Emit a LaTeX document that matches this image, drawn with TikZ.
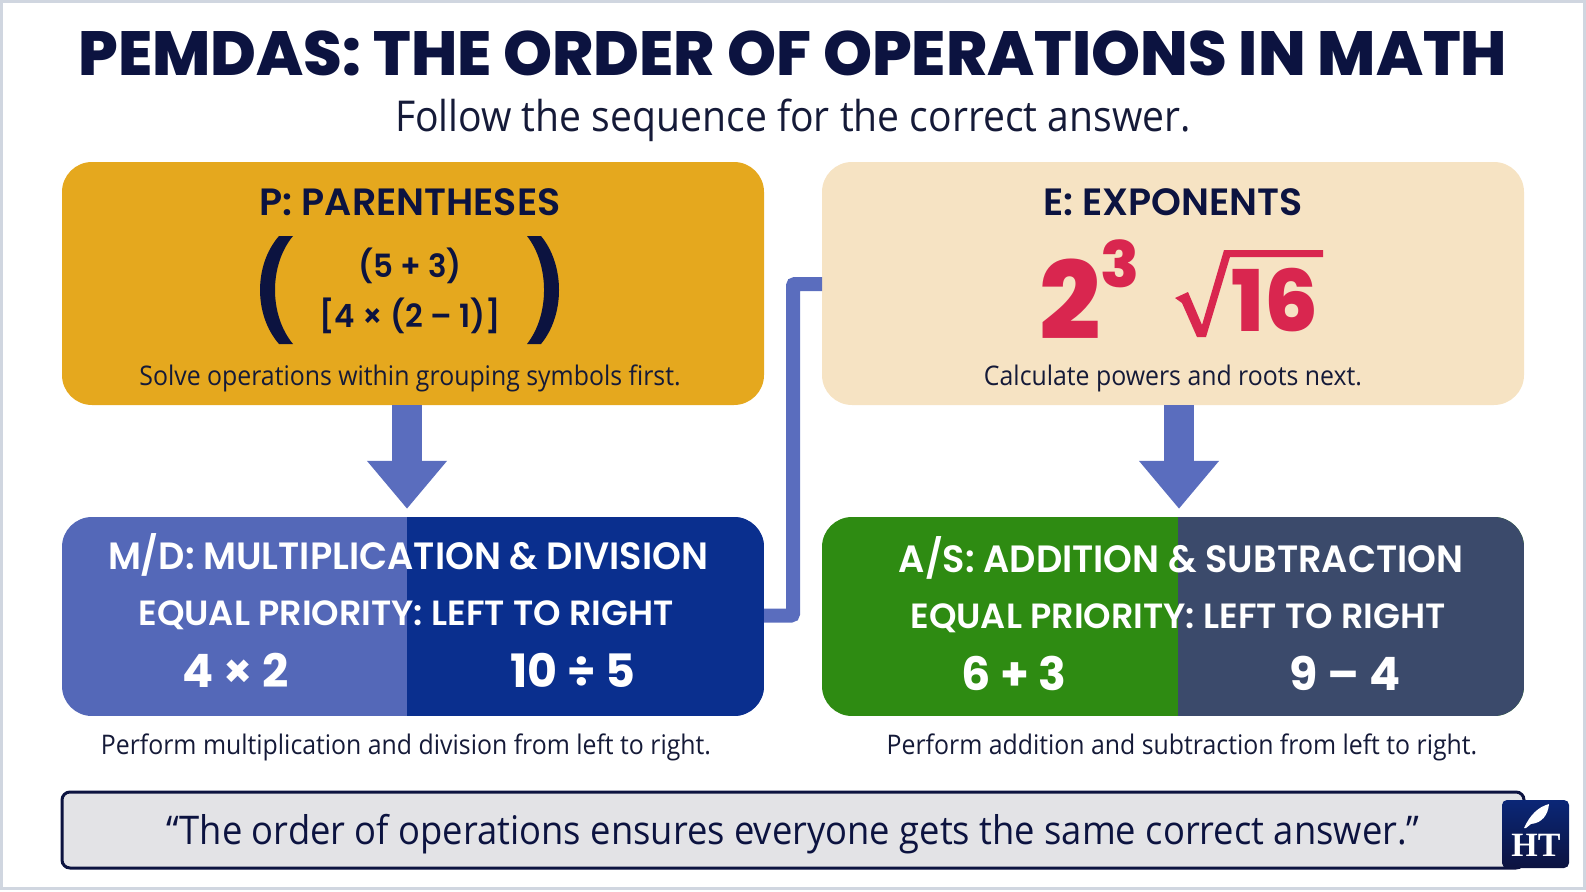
\documentclass[tikz,border=0pt]{standalone}
\usepackage{fontspec}
\usetikzlibrary{positioning,arrows.meta,calc}
\newfontfamily\titlefont{Poppins ExtraBold}
\newfontfamily\headfont{Poppins SemiBold}
\newfontfamily\widefont[FakeStretch=0.965]{Poppins SemiBold}
\newfontfamily\sumfont{Poppins}
\newfontfamily\bodyfont[FakeStretch=0.92]{Open Sans}
\newfontfamily\logofont{Liberation Serif}
\newcommand{\fsz}[1]{\fontsize{#1}{#1}\selectfont}
\definecolor{navy}{HTML}{0C1340}
\definecolor{ink}{HTML}{151A38}
\definecolor{gold}{HTML}{E5A81E}
\definecolor{cream}{HTML}{F6E3C3}
\definecolor{crimson}{HTML}{D9264F}
\definecolor{mdleft}{HTML}{5468B8}
\definecolor{mdright}{HTML}{0A2F8E}
\definecolor{asleft}{HTML}{2E8B12}
\definecolor{asright}{HTML}{3B4A6B}
\definecolor{flow}{HTML}{5A6DBE}
\definecolor{quotebg}{HTML}{E3E3E6}
\definecolor{frame}{HTML}{D0D6E0}
\tikzset{
  tile/.style={rounded corners=30pt,minimum width=702pt,inner sep=0pt},
  split tile/.style n args={3}{tile,minimum height=199pt,path picture={
    \fill[#1,sharp corners] (path picture bounding box.south west) rectangle (path picture bounding box.north east);
    \fill[#2,sharp corners] (path picture bounding box.south east) rectangle (#3,-200);}},
  head/.style={anchor=base,inner sep=0pt,text=navy,font=\headfont\fsz{38}},
  white head/.style={anchor=base,inner sep=0pt,text=white,font=\widefont\fsz{38}},
  rule/.style={anchor=base,inner sep=0pt,text=white,font=\headfont\fsz{35}},
  sums/.style={anchor=base,inner sep=0pt,text=white,font=\sumfont\bfseries\fsz{46}},
  expr/.style={anchor=base,inner sep=0pt,text=navy,font=\widefont\fsz{32}},
  power/.style={anchor=base,inner sep=0pt,text=crimson},
  caption/.style={anchor=base,inner sep=0pt,text=ink,font=\bodyfont\fsz{27}},
  down/.style={line width=30pt,flow,-{Triangle[width=77pt,length=48pt]},shorten >=8pt},
}
\begin{document}
\begin{tikzpicture}[x=1pt,y=-1pt]
\useasboundingbox (0,0) rectangle (1586,891);
\draw[line width=3pt,draw=frame] (1,1.5) rectangle (1584.5,888.5);
% heading
\node[anchor=base,inner sep=0pt,text=navy,font=\titlefont\fsz{62.4}] (title) at (793,75) {PEMDAS: THE ORDER OF OPERATIONS IN MATH};
\node[anchor=base,inner sep=0pt,text=ink,font=\bodyfont\fsz{42.5}] (sub) at (793,131) {Follow the sequence for the correct answer.};
% tiles
\node[tile,fill=gold,minimum height=243pt] (ptile) at (413,283.5) {};
\node[tile,fill=cream,minimum height=243pt] (etile) at (1173,283.5) {};
\node[split tile={mdleft}{mdright}{-6}] (mdtile) at (413,616.5) {};
\node[split tile={asleft}{asright}{5}] (astile) at (1173,616.5) {};
% connectors
\coordinate (psplit) at (407,405);
\coordinate (esplit) at (1179,405);
\draw[down] (psplit) -- (psplit |- mdtile.north);
\draw[down] (esplit) -- (esplit |- astile.north);
\coordinate (mdout) at (764,615.5);
\coordinate (ein) at (822,284);
\draw[line width=14pt,flow,rounded corners=2pt] (mdout) -| (793,284) -- (ein);
% P
\node[head] (phead) at (410,215) {P: PARENTHESES};
\fill[navy] (279,236) .. controls (253.7,265) and (253.7,315) .. (279,344) -- (293,344) .. controls (269,315) and (269,265) .. (293,236) -- cycle;
\node[expr] (pa) at (410,277) {(5 + 3)};
\node[expr] (pb) at (410,327) {[4 × (2 – 1)]};
\fill[navy] (541,236) .. controls (565,265) and (565,315) .. (541,344) -- (527,344) .. controls (549.7,315) and (549.7,265) .. (527,236) -- cycle;
\node[caption] (pcap) at (410,385) {Solve operations within grouping symbols first.};
% E
\node[head] (ehead) at (1173,215) {E: EXPONENTS};
\node[power,font=\titlefont\fsz{108}] (two) at (1070,339) {2};
\node[power,font=\titlefont\fsz{64}] (three) at (1120,287) {3};
\fill[crimson] (1175,298) -- (1188,292) -- (1202,325) -- (1224,250) -- (1323,250) -- (1323,257) -- (1230,257) -- (1206,337) -- (1197,337) -- (1182,303) -- cycle;
\node[power,font=\titlefont\fsz{85}] (root) at (1275,331) {16};
\node[caption] (ecap) at (1173,385) {Calculate powers and roots next.};
% M/D
\node[white head] (mdhead) at (408,569) {M/D: MULTIPLICATION \& DIVISION};
\node[rule] (mdrule) at (406,625) {EQUAL PRIORITY: LEFT TO RIGHT};
\node[sums] (mda) at (236,687) {4 × 2};
\node[sums] (mdb) at (573,687) {10 ÷ 5};
\node[caption] (mdcap) at (406,754) {Perform multiplication and division from left to right.};
% A/S
\node[white head] (ashead) at (1181,572) {A/S: ADDITION \& SUBTRACTION};
\node[rule] (asrule) at (1178,628) {EQUAL PRIORITY: LEFT TO RIGHT};
\node[sums] (asa) at (1014,690) {6 + 3};
\node[sums] (asb) at (1345,690) {9 – 4};
\node[caption] (ascap) at (1182,754) {Perform addition and subtraction from left to right.};
% quote
\node[draw=navy,line width=3pt,fill=quotebg,rounded corners=8pt,minimum width=1462pt,minimum height=76pt] (quote) at (793,830) {};
\node[anchor=base,inner sep=0pt,text=navy,font=\bodyfont\fsz{39.5}] (qtext) at (793,844) {“The order of operations ensures everyone gets the same correct answer.”};
% logo
\node[rounded corners=5pt,minimum width=67pt,minimum height=68pt,top color=mdright!70!navy,bottom color=navy,inner sep=0pt] (logo) at (1535.5,834) {};
\node[anchor=base,inner sep=0pt,text=white,font=\logofont\bfseries\fsz{34}] (ht) at (1536,856) {HT};
\fill[white] (1524,828) .. controls (1530,815) and (1538,807) .. (1549,804) .. controls (1548,815) and (1542,823) .. (1531,824) -- (1526,828) -- cycle;
\end{tikzpicture}
\end{document}
